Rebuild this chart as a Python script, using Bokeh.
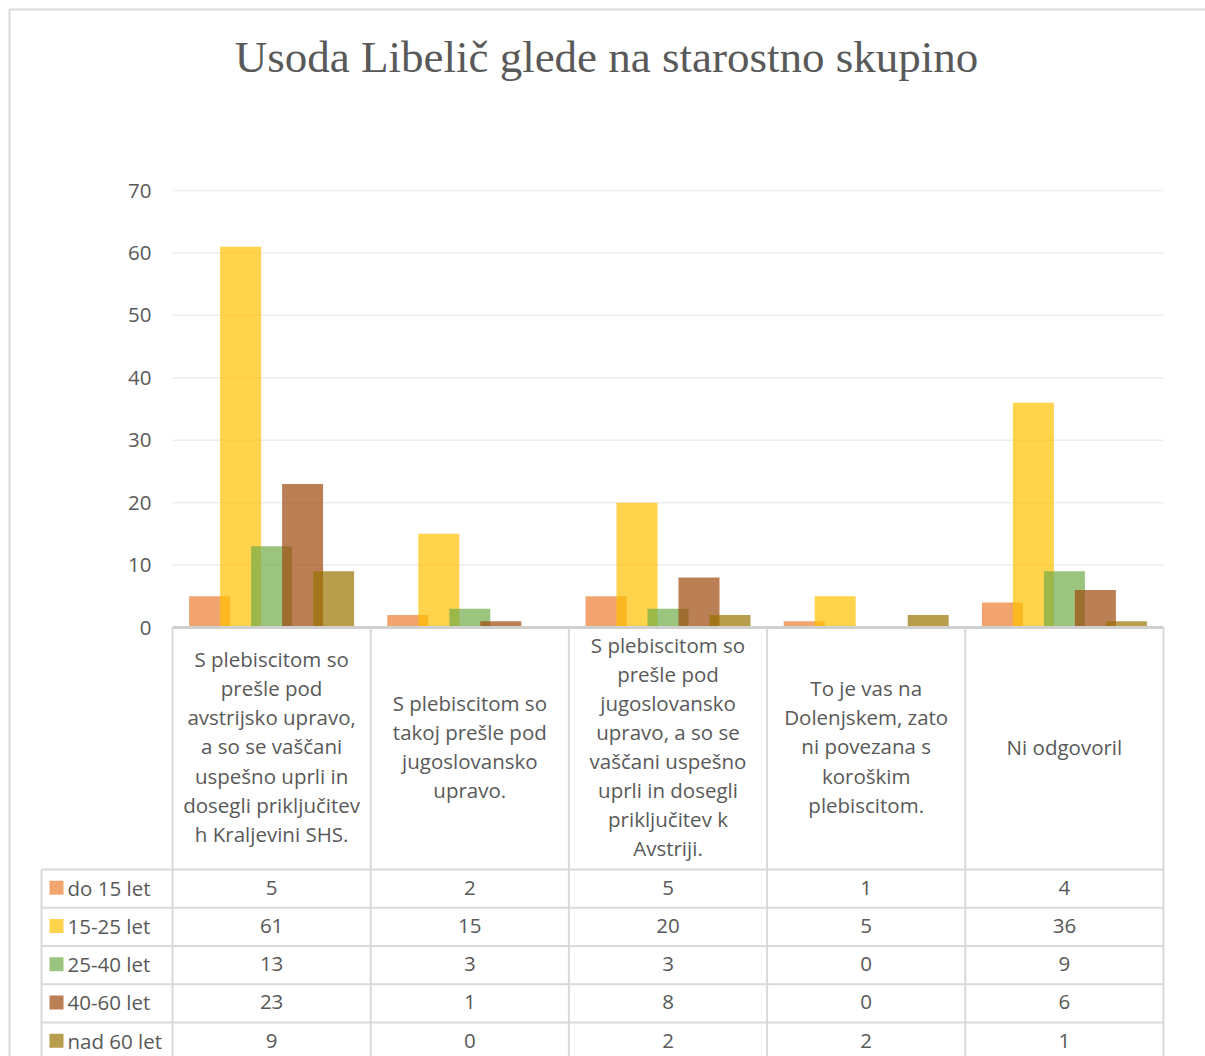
from bokeh.plotting import figure
from bokeh.models import Range1d
from bokeh.embed import file_html
from bokeh.resources import INLINE
from bokeh.core.properties import value

# ---------------- data ----------------
title = "Usoda Libelič glede na starostno skupino"
categories = [
    "S plebiscitom so\nprešle pod\navstrijsko upravo,\na so se vaščani\nuspešno uprli in\ndosegli priključitev\nh Kraljevini SHS.",
    "S plebiscitom so\ntakoj prešle pod\njugoslovansko\nupravo.",
    "S plebiscitom so\nprešle pod\njugoslovansko\nupravo, a so se\nvaščani uspešno\nuprli in dosegli\npriključitev k\nAvstriji.",
    "To je vas na\nDolenjskem, zato\nni povezana s\nkoroškim\nplebiscitom.",
    "Ni odgovoril",
]
series_names = ["do 15 let", "15-25 let", "25-40 let", "40-60 let", "nad 60 let"]
do_15 = [5, 2, 5, 1, 4]
od_15_do_25 = [61, 15, 20, 5, 36]
od_25_do_40 = [13, 3, 3, 0, 9]
od_40_do_60 = [23, 1, 8, 0, 6]
nad_60 = [9, 0, 2, 2, 1]
series_values = [do_15, od_15_do_25, od_25_do_40, od_40_do_60, nad_60]
y_ticks = [0, 10, 20, 30, 40, 50, 60, 70]

# ---------------- styling / layout ----------------
colors = ["#ED7D31", "#FFC000", "#70AD47", "#9E480E", "#997300"]
ALPHA = 0.7
TXT = "#595959"
LINE = "#D9D9D9"
FONT = value("Open Sans")
FS = "20.5px"

ORIGIN = 0                           # page offset of the canvas
W, H = 1205, 1056
PLOT_L, PLOT_R = 172, 1163          # page px of plot area
Y0_PX, YMAX_PX = 627, 190           # page px of 0 and 70
n_cat = len(categories)
PX_PER_CAT = (PLOT_R - PLOT_L) / n_cat
PX_PER_UNIT = (Y0_PX - YMAX_PX) / y_ticks[-1]


def X(px):
    return (px - PLOT_L) / PX_PER_CAT


def Y(py):
    return (Y0_PX - py) / PX_PER_UNIT


p = figure(width=W, height=H,
           x_range=Range1d(X(ORIGIN), X(ORIGIN + W)), y_range=Range1d(Y(ORIGIN + H), Y(ORIGIN)),
           output_backend="svg", toolbar_location=None, min_border=0,
           x_axis_location=None, y_axis_location=None)
p.grid.visible = False
p.outline_line_color = None
p.background_fill_color = "white"
p.border_fill_color = "white"

# chart border (left & top visible)
p.segment(x0=[X(9), X(9)], y0=[Y(9), Y(9)], x1=[X(9), X(ORIGIN + W + 5)], y1=[Y(ORIGIN + H + 5), Y(9)],
          line_color=LINE, line_width=2)

# title
p.text(x=[X(606)], y=[Y(56)], text=[title], text_align="center", text_baseline="alphabetic",
       text_font=value("Liberation Serif"), text_font_size="45px", text_color=TXT)

# gridlines
gt = y_ticks[1:]
p.segment(x0=[0] * len(gt), x1=[n_cat] * len(gt), y0=gt, y1=gt, line_color="#EDEDED", line_width=1.5)

# y tick labels
p.text(x=[X(151)] * len(y_ticks), y=y_ticks, text=[str(t) for t in y_ticks],
       text_align="right", text_baseline="middle", text_font=FONT, text_font_size=FS, text_color=TXT)

# bars
BW = 41 / PX_PER_CAT
STEP = 31 / PX_PER_CAT
for k, (vals, col) in enumerate(zip(series_values, colors)):
    xs = [i + 0.5 + (k - 2) * STEP for i in range(n_cat)]
    p.vbar(x=xs, top=vals, bottom=0, width=BW, fill_color=col, fill_alpha=ALPHA, line_color=None)

# ---------------- data table ----------------
HEAD_BOTTOM = 869
ROW_H = 38.25
TABLE_L = 41
row_edges = [HEAD_BOTTOM + r * ROW_H for r in range(len(series_names) + 1)]
bottom = ORIGIN + H + 5

# horizontal lines
p.segment(x0=[X(TABLE_L)] * (len(row_edges) - 1), x1=[n_cat] * (len(row_edges) - 1),
          y0=[Y(e) for e in row_edges[:-1]], y1=[Y(e) for e in row_edges[:-1]],
          line_color=LINE, line_width=2)
# vertical lines
vx = list(range(n_cat + 1))
p.segment(x0=vx, x1=vx, y0=[0] * len(vx), y1=[Y(bottom)] * len(vx), line_color=LINE, line_width=2)
p.segment(x0=[X(TABLE_L)], x1=[X(TABLE_L)], y0=[Y(HEAD_BOTTOM)], y1=[Y(bottom)], line_color=LINE, line_width=2)
# axis line
p.segment(x0=[0], x1=[n_cat], y0=[0], y1=[0], line_color="#D0D0D0", line_width=3)

# category labels
p.text(x=[i + 0.5 for i in range(n_cat)], y=[Y((Y0_PX + HEAD_BOTTOM) / 2 - 2)] * n_cat, text=categories,
       text_align="center", text_baseline="middle", text_line_height=1.04,
       text_font=FONT, text_font_size=FS, text_color=TXT)

# rows
for r, (name, vals, col) in enumerate(zip(series_names, series_values, colors)):
    yc = Y(HEAD_BOTTOM + (r + 0.5) * ROW_H - 1)
    p.rect(x=[X(56)], y=[yc], width=14, height=14, width_units="screen", height_units="screen",
           fill_color=col, fill_alpha=ALPHA, line_color=None)
    p.text(x=[X(67)], y=[yc], text=[name], text_align="left", text_baseline="middle",
           text_font=FONT, text_font_size=FS, text_color=TXT)
    p.text(x=[i + 0.5 for i in range(n_cat)], y=[yc] * n_cat, text=[str(v) for v in vals],
           text_align="center", text_baseline="middle",
           text_font=FONT, text_font_size=FS, text_color=TXT)

open("out.html", "w").write(file_html(p, INLINE))
